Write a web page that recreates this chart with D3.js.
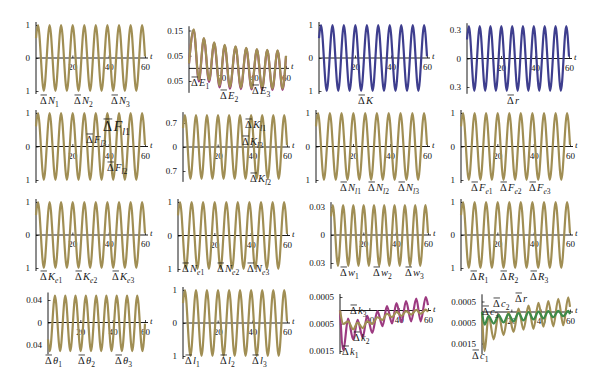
<!DOCTYPE html>
<html><head><meta charset="utf-8">
<script src="https://cdn.jsdelivr.net/npm/d3@7"></script>
<style>body{margin:0;background:#fff}svg{display:block}</style>
</head><body><svg id="c" width="600" height="383"></svg>
<script>
// ---------- data (extrema of each curve) ----------
const tTicks = [20, 40, 60];
const tExt = [0, 1.1, 4.3, 7.5, 10.7, 13.8, 17.0, 20.2, 23.4, 26.6, 29.8, 32.9, 36.1, 39.3, 42.5, 45.7, 48.9, 52.1, 55.2, 58.4, 60];
const dN  = [0.6, 1, -1, 1, -1, 1, -1, 1, -1, 1, -1, 1, -1, 1, -1, 1, -1, 1, -1, 1, 0.05];
const dK  = [0.6, 1, -1, 1, -1, 1, -1, 1, -1, 1, -1, 1, -1, 1, -1, 1, -1, 1, -1, 1, 0.05];
const dr  = [0.2, 0.34, -0.34, 0.34, -0.34, 0.34, -0.34, 0.34, -0.34, 0.34, -0.34, 0.34, -0.34, 0.34, -0.34, 0.34, -0.34, 0.34, -0.34, 0.34, 0.02];
const dFl = [0.6, 1, -1, 1, -1, 1, -1, 1, -1, 1, -1, 1, -1, 1, -1, 1, -1, 1, -1, 1, 0.05];
const dKl = [0.55, 0.93, -0.93, 0.93, -0.93, 0.93, -0.93, 0.93, -0.93, 0.93, -0.93, 0.93, -0.93, 0.93, -0.93, 0.93, -0.93, 0.93, -0.93, 0.93, 0.05];
const dNl = [0.6, 1, -1, 1, -1, 1, -1, 1, -1, 1, -1, 1, -1, 1, -1, 1, -1, 1, -1, 1, 0.05];
const dFe = [0.6, 1, -1, 1, -1, 1, -1, 1, -1, 1, -1, 1, -1, 1, -1, 1, -1, 1, -1, 1, 0.05];
const dKe = [0.6, 1, -1, 1, -1, 1, -1, 1, -1, 1, -1, 1, -1, 1, -1, 1, -1, 1, -1, 1, 0.05];
const dNe = [0.6, 1, -1, 1, -1, 1, -1, 1, -1, 1, -1, 1, -1, 1, -1, 1, -1, 1, -1, 1, 0.05];
const dw  = [0.02, 0.032, -0.033, 0.032, -0.033, 0.032, -0.033, 0.032, -0.033, 0.032, -0.033, 0.032, -0.033, 0.032, -0.033, 0.032, -0.033, 0.032, -0.033, 0.032, 0.002];
const dR  = [0.6, 1, -1, 1, -1, 1, -1, 1, -1, 1, -1, 1, -1, 1, -1, 1, -1, 1, -1, 1, 0.05];
const dTh = [-0.03, -0.051, 0.048, -0.051, 0.048, -0.051, 0.048, -0.051, 0.048, -0.051, 0.048, -0.051, 0.048, -0.051, 0.048, -0.051, 0.048, -0.051, 0.048, -0.051, -0.002];
const dl  = [0.6, 1, -1, 1, -1, 1, -1, 1, -1, 1, -1, 1, -1, 1, -1, 1, -1, 1, -1, 1, 0.05];

const tE  = [0, 2.9, 6.1, 9.2, 12.4, 15.6, 18.9, 22.1, 25.3, 28.8, 32.1, 35.4, 38.7, 42.0, 45.2, 48.4, 51.6, 54.8, 57.9, 60];
const dE1 = [0.02, 0.155, -0.045, 0.12, -0.047, 0.103, -0.068, 0.093, -0.074, 0.087, -0.076, 0.081, -0.078, 0.076, -0.079, 0.073, -0.08, 0.071, -0.08, 0.05];
const dE2 = [0.02, 0.152, -0.052, 0.118, -0.054, 0.1, -0.075, 0.09, -0.08, 0.085, -0.082, 0.079, -0.083, 0.074, -0.084, 0.071, -0.085, 0.069, -0.085, 0.048];

const tk  = [0, 2.3, 5.5, 9, 12, 15.5, 18.5, 22, 25.5, 29, 32, 35.5, 38.5, 42, 45, 48.5, 52, 55, 58.5, 60];
const dk1 = [0, -0.00147, -0.0003, -0.00107, -0.00035, -0.001, -0.0002, -0.00083, -0.00002, -0.00058, 0.00016, -0.00048, 0.00027, -0.00043, 0.00035, -0.0004, 0.00044, -0.0004, 0.0005, 0.0002];
const dk3 = [0, -0.0005, -0.0004, -0.0007, -0.00045, -0.00065, -0.0004, -0.0005, -0.00025, -0.00035, -0.00012, -0.00025, -0.00005, -0.0002, -0.00002, -0.00015, 0.00002, -0.00012, 0.00003, -0.00005];

const tc  = [0, 1.8, 4.5, 8, 11.3, 14.7, 18, 21.5, 24.9, 28.3, 31.7, 35.1, 38.5, 41.9, 45.2, 48.6, 52, 55.4, 58.8, 60];
const dc1 = [0, -0.00186, -0.00016, -0.0013, -0.0001, -0.0011, 0, -0.00095, 0.00016, -0.00084, 0.0003, -0.0008, 0.00043, -0.0007, 0.00052, -0.00068, 0.00063, -0.00063, 0.0007, 0.00024];
const drr = [0, -0.0006, -0.0002, -0.00055, -0.00015, -0.0005, -0.0001, -0.00045, -0.00005, -0.0004, 0, -0.00035, 0.00002, -0.0003, 0.00004, -0.00025, 0.00005, -0.0002, 0.00005, -0.0001];

// ---------- styles / layout ----------
const OLIVE = '#a08e54', BLUE = '#3e3e8e', MAG = '#9c3a80', GREEN = '#3d8a48';
const FONT = "'Liberation Serif','Times New Roman',serif";

const panels = [
  {x0:36, x1:145, ya:[1,25], yb:[-1,91], ticks:[1,0,-1], tt:['1','0','1'], s:[{t:tExt,v:dN,c:OLIVE}],
   L:[{x:40,y:104,v:'N',sub:'1'},{x:74,y:104,v:'N',sub:'2'},{x:111,y:104,v:'N',sub:'3'}]},
  {x0:189, x1:286, ya:[0.15,30.5], yb:[-0.05,81], ticks:[0.15,0.05,-0.05], tt:['0.15','0.05','0.05'], s:[{t:tE,v:dE2,c:MAG},{t:tE,v:dE1,c:OLIVE}],
   L:[{x:191,y:86,v:'E',sub:'1'},{x:220,y:99,v:'E',sub:'2'},{x:252,y:94,v:'E',sub:'3'}]},
  {x0:319, x1:427, ya:[1,25], yb:[-1,91], ticks:[1,0,-1], tt:['1','0','1'], s:[{t:tExt,v:dK,c:BLUE}],
   L:[{x:358,y:104,v:'K'}]},
  {x0:467, x1:569, ya:[0.3,30], yb:[-0.3,87], ticks:[0.3,0,-0.3], tt:['0.3','0','0.3'], s:[{t:tExt,v:dr,c:BLUE}],
   L:[{x:507,y:104,v:'r'}]},

  {x0:36, x1:145, ya:[1,113], yb:[-1,180], ticks:[1,0,-1], tt:['1','0','1'], s:[{t:tExt,v:dFl,c:OLIVE}],
   L:[{x:103,y:131,v:'F',sub:'l1',size:14},{x:86,y:143,v:'F',sub:'l3'},{x:107,y:171,v:'F',sub:'l2'}]},
  {x0:183, x1:287, ya:[0.7,123], yb:[-0.7,171], ticks:[0.7,0,-0.7], tt:['0.7','0','0.7'], s:[{t:tExt,v:dKl,c:OLIVE}],
   L:[{x:245,y:128,v:'K',sub:'l1'},{x:242,y:145,v:'K',sub:'l3'},{x:250,y:182,v:'K',sub:'l2'}]},
  {x0:316, x1:427, ya:[1,113], yb:[-1,180], ticks:[1,0,-1], tt:['1','0','1'], s:[{t:tExt,v:dNl,c:OLIVE}],
   L:[{x:340,y:191,v:'N',sub:'l1'},{x:368,y:191,v:'N',sub:'l2'},{x:398,y:191,v:'N',sub:'l3'}]},
  {x0:461, x1:570, ya:[1,113], yb:[-1,180], ticks:[1,0,-1], tt:['1','0','1'], s:[{t:tExt,v:dFe,c:OLIVE}],
   L:[{x:471,y:191,v:'F',sub:'e1'},{x:500,y:191,v:'F',sub:'e2'},{x:529,y:191,v:'F',sub:'e3'}]},

  {x0:36, x1:145, ya:[1,202], yb:[-1,268], ticks:[1,0,-1], tt:['1','0','1'], s:[{t:tExt,v:dKe,c:OLIVE}],
   L:[{x:40,y:280,v:'K',sub:'e1'},{x:75,y:280,v:'K',sub:'e2'},{x:112,y:280,v:'K',sub:'e3'}]},
  {x0:178, x1:287, ya:[1,202], yb:[-1,269], ticks:[1,0,-1], tt:['1','0','1'], s:[{t:tExt,v:dNe,c:OLIVE}],
   L:[{x:182,y:272,v:'N',sub:'e1'},{x:217,y:272,v:'N',sub:'e2'},{x:247,y:272,v:'N',sub:'e3'}]},
  {x0:331, x1:428, ya:[0.03,207], yb:[-0.03,263], ticks:[0.03,0,-0.03], tt:['0.03','0','0.03'], s:[{t:tExt,v:dw,c:OLIVE}],
   L:[{x:340,y:276,v:'w',sub:'1'},{x:373,y:276,v:'w',sub:'2'},{x:405,y:276,v:'w',sub:'3'}]},
  {x0:461, x1:570, ya:[1,202], yb:[-1,268], ticks:[1,0,-1], tt:['1','0','1'], s:[{t:tExt,v:dR,c:OLIVE}],
   L:[{x:470,y:280,v:'R',sub:'1'},{x:500,y:280,v:'R',sub:'2'},{x:530,y:280,v:'R',sub:'3'}]},

  {x0:48, x1:145, ya:[0.04,300], yb:[-0.04,345], ticks:[0.04,0,-0.04], tt:['0.04','0','0.04'], s:[{t:tExt,v:dTh,c:OLIVE}],
   L:[{x:45,y:364,v:'θ',sub:'1'},{x:78,y:364,v:'θ',sub:'2'},{x:115,y:364,v:'θ',sub:'3'}]},
  {x0:183, x1:287, ya:[1,290], yb:[-1,356], ticks:[1,0,-1], tt:['1','0','1'], s:[{t:tExt,v:dl,c:OLIVE}],
   L:[{x:185,y:364,v:'l',sub:'1'},{x:220,y:364,v:'l',sub:'2'},{x:252,y:364,v:'l',sub:'3'}]},
  {x0:340, x1:428, ya:[0.0005,297], yb:[-0.0015,351], ticks:[0.0005,-0.0005,-0.0015], tt:['0.0005','0.0005','0.0015'], s:[{t:tk,v:dk1,c:MAG},{t:tk,v:dk3,c:OLIVE}],
   L:[{x:350,y:314,v:'k',sub:'3'},{x:353,y:341,v:'k',sub:'2'},{x:342,y:355,v:'k',sub:'1'}]},
  {x0:482, x1:570, ya:[0.0005,301.5], yb:[-0.0015,343.5], ticks:[0.0005,-0.0005,-0.0015], tt:['0.0005','0.0005','0.0015'], s:[{t:tc,v:dc1,c:OLIVE},{t:tc,v:drr,c:GREEN}],
   L:[{x:493,y:307,v:'c',sub:'2'},{x:515,y:302,v:'r'},{x:482,y:315,v:'c',sub:'3'},{x:472,y:359,v:'c',sub:'1'}]}
];

const svg = d3.select('#c');

function drawLabel(g, L) {
  const fs = L.size || 10.5;
  const t = g.append('text').attr('x', L.x).attr('y', L.y)
    .attr('font-family', FONT).attr('font-size', fs).attr('fill', '#1a1a1a');
  t.append('tspan').text('Δ');
  t.append('tspan').attr('font-style', 'italic').attr('dx', fs * 0.12).text(L.v);
  if (L.sub) {
    const sfs = fs * 0.72;
    const chars = L.sub.split('');
    chars.forEach((ch, i) => {
      const sp = t.append('tspan').attr('font-size', sfs).text(ch);
      if (i === 0) sp.attr('dy', fs * 0.28);
      if (/[a-z]/.test(ch)) sp.attr('font-style', 'italic');
    });
  }
  g.append('line').attr('x1', L.x + 0.5).attr('x2', L.x + fs * 0.66)
    .attr('y1', L.y - fs * 0.86).attr('y2', L.y - fs * 0.86)
    .attr('stroke', '#1a1a1a').attr('stroke-width', 0.8);
}

panels.forEach(P => {
  const x = d3.scaleLinear().domain([0, 60]).range([P.x0, P.x1]);
  const y = d3.scaleLinear().domain([P.ya[0], P.yb[0]]).range([P.ya[1], P.yb[1]]);
  const g = svg.append('g');
  const y0 = y(0);

  let vmin = Infinity, vmax = -Infinity;
  P.s.forEach(s => s.v.forEach(v => { vmin = Math.min(vmin, v); vmax = Math.max(vmax, v); }));
  const yTop = Math.min(y(vmax), y(P.ticks[0])) - 3;
  const yBot = Math.max(y(vmin), y(P.ticks[P.ticks.length - 1])) + 3;

  const xa = g.append('g').attr('transform', `translate(0,${y0})`)
    .call(d3.axisBottom(x).tickValues(tTicks).tickSizeInner(-2.5).tickSizeOuter(0).tickPadding(6));
  xa.select('.domain').remove();
  xa.selectAll('line').attr('stroke', '#000').attr('stroke-width', 0.7);
  xa.selectAll('text').attr('font-family', FONT).attr('font-size', 9).attr('fill', '#111');
  g.append('line').attr('x1', P.x0).attr('x2', P.x1 + 3).attr('y1', y0).attr('y2', y0)
    .attr('stroke', '#000').attr('stroke-width', 0.9);
  g.append('text').attr('x', P.x1 + 5).attr('y', y0 + 1).attr('font-family', FONT)
    .attr('font-style', 'italic').attr('font-size', 9).attr('fill', '#111').text('t');

  const ya = g.append('g').attr('transform', `translate(${P.x0},0)`)
    .call(d3.axisLeft(y).tickValues(P.ticks).tickFormat((d, i) => P.tt[i]).tickSizeInner(-2.5).tickSizeOuter(0).tickPadding(6));
  ya.select('.domain').remove();
  ya.selectAll('line').attr('stroke', '#000').attr('stroke-width', 0.7);
  ya.selectAll('text').attr('font-family', FONT).attr('font-size', 9).attr('fill', '#111');
  g.append('line').attr('x1', P.x0).attr('x2', P.x0).attr('y1', yTop).attr('y2', yBot)
    .attr('stroke', '#000').attr('stroke-width', 0.9);

  const line = d3.line().x(d => x(d[0])).y(d => y(d[1])).curve(d3.curveMonotoneX);
  P.s.forEach(s => {
    g.append('path').datum(s.t.map((tt, i) => [tt, s.v[i]]))
      .attr('d', line).attr('fill', 'none').attr('stroke', s.c)
      .attr('stroke-width', 2.2).attr('stroke-linejoin', 'round');
  });

  P.L.forEach(L => drawLabel(g, L));
});
</script>
</body></html>
